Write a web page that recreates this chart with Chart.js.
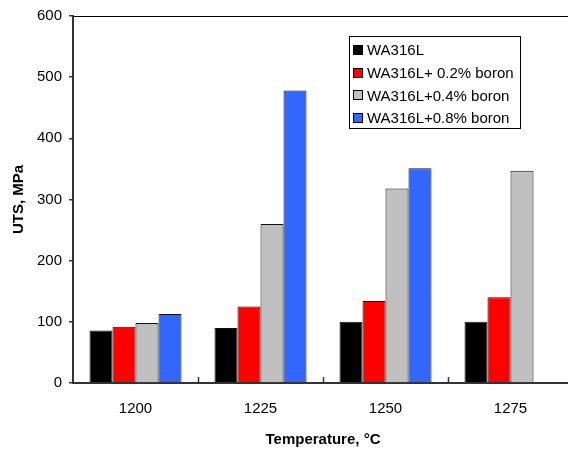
<!DOCTYPE html>
<html lang="en">
<head>
    <meta charset="UTF-8">
    <title>UTS vs Temperature</title>
    <script src="https://cdn.jsdelivr.net/npm/chart.js"></script>
    <style>
        html, body { margin: 0; padding: 0; overflow: hidden; background: #fff; }
        canvas { display: block; }
    </style>
</head>
<body>
    <canvas id="utsChart" width="580" height="453"></canvas>

    <script>
        // data
        const temperatures = ["1200", "1225", "1250", "1275"];
        const seriesNames = ["WA316L", "WA316L+ 0.2% boron", "WA316L+0.4% boron", "WA316L+0.8% boron"];
        const uts316L = [86, 90, 100, 100];
        const uts02B = [92, 125, 134, 140];
        const uts04B = [98, 260, 318, 347];
        const uts08B = [113, 478, 351, null];
        const yTicks = [0, 100, 200, 300, 400, 500, 600];

        const fontFamily = "'Liberation Sans', Arial, sans-serif";

        // top frame line + inward category ticks on the x axis
        const framePlugin = {
            id: "frame",
            afterDraw(chart) {
                const ctx = chart.ctx;
                const area = chart.chartArea;
                const x = chart.scales.x;
                ctx.save();
                ctx.strokeStyle = "#000";
                ctx.lineWidth = 1;
                ctx.beginPath();
                ctx.moveTo(area.left, area.top + 0.5);
                ctx.lineTo(area.right, area.top + 0.5);
                ctx.stroke();

                ctx.strokeStyle = "#333";
                ctx.lineWidth = 1.5;
                for (let i = 1; i < temperatures.length; i++) {
                    let px = Math.round((x.getPixelForTick(i - 1) + x.getPixelForTick(i)) / 2) + 0.5;
                    ctx.beginPath();
                    ctx.moveTo(px, area.bottom);
                    ctx.lineTo(px, area.bottom - 6);
                    ctx.stroke();
                }
                ctx.restore();
            }
        };

        // boxed legend inside the plot
        const boxLegend = {
            id: "boxLegend",
            afterDraw(chart) {
                const ctx = chart.ctx;
                const left = 349, top = 36, w = 171, h = 92;
                ctx.save();
                ctx.fillStyle = "#fff";
                ctx.fillRect(left, top, w, h);
                ctx.strokeStyle = "#000";
                ctx.lineWidth = 1;
                ctx.strokeRect(left + 0.5, top + 0.5, w, h);
                ctx.font = "15px " + fontFamily;
                ctx.textBaseline = "middle";
                chart.data.datasets.forEach(function (ds, i) {
                    let cy = top + 14 + i * 22.7;
                    ctx.fillStyle = ds.backgroundColor;
                    ctx.fillRect(353.5, Math.round(cy - 5) + 0.5, 9, 9);
                    ctx.strokeStyle = "#000";
                    ctx.strokeRect(353.5, Math.round(cy - 5) + 0.5, 9, 9);
                    ctx.fillStyle = "#000";
                    ctx.fillText(ds.label, 367, cy + 1);
                });
                ctx.restore();
            }
        };

        const colors = ["#000000", "#FF0000", "#C0C0C0", "#3366FF"];
        const values = [uts316L, uts02B, uts04B, uts08B];

        new Chart(document.getElementById("utsChart"), {
            type: "bar",
            data: {
                labels: temperatures,
                datasets: seriesNames.map(function (name, i) {
                    return {
                        label: name,
                        data: values[i],
                        backgroundColor: colors[i],
                        borderColor: "#111",
                        borderWidth: 1,
                        borderSkipped: "bottom",
                        categoryPercentage: 0.736,
                        barPercentage: 1.0
                    };
                })
            },
            options: {
                responsive: false,
                animation: false,
                layout: { padding: { left: 0, top: 13, right: 7, bottom: 0 } },
                plugins: {
                    legend: { display: false },
                    tooltip: { enabled: false }
                },
                scales: {
                    x: {
                        afterFit: function (scale) { scale.height = 70; },
                        grid: { display: false, drawTicks: false },
                        border: { display: true, color: "#333", width: 2 },
                        ticks: {
                            color: "#000",
                            padding: 17,
                            font: { family: fontFamily, size: 15 }
                        },
                        title: {
                            display: true,
                            text: "Temperature, °C",
                            color: "#000",
                            padding: { top: 0, bottom: 4 },
                            font: { family: fontFamily, size: 15, weight: "bold" }
                        }
                    },
                    y: {
                        min: 0,
                        max: 600,
                        afterFit: function (scale) { scale.width = 73; },
                        afterBuildTicks: function (scale) {
                            scale.ticks = yTicks.map(function (v) { return { value: v }; });
                        },
                        grid: {
                            drawOnChartArea: false,
                            drawTicks: true,
                            tickLength: 4,
                            color: "#333",
                            lineWidth: 1.5
                        },
                        border: { display: true, color: "#333", width: 2 },
                        ticks: {
                            color: "#000",
                            padding: 7,
                            font: { family: fontFamily, size: 15 }
                        },
                        title: {
                            display: true,
                            text: "UTS, MPa",
                            color: "#000",
                            padding: { top: 10, bottom: 0 },
                            font: { family: fontFamily, size: 15, weight: "bold" }
                        }
                    }
                }
            },
            plugins: [framePlugin, boxLegend]
        });
    </script>
</body>
</html>
